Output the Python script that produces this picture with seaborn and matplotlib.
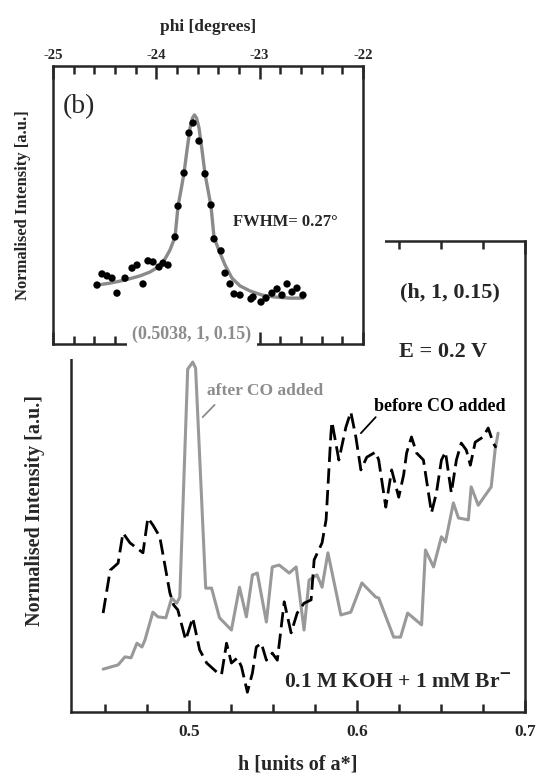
import matplotlib
matplotlib.use("Agg")
import matplotlib.pyplot as plt
import seaborn as sns
import pandas as pd
from matplotlib.patches import Rectangle

# ---------------- data: main panel (a) ----------------
h_after = [0.4491, 0.4580, 0.4621, 0.4657, 0.4692, 0.4722, 0.4740, 0.4787, 0.4817, 0.4864,
           0.4899, 0.4929, 0.4947, 0.4994, 0.5024, 0.5041, 0.5101, 0.5136, 0.5183, 0.5254,
           0.5302, 0.5343, 0.5379, 0.5408, 0.5462, 0.5497, 0.5538, 0.5598, 0.5639, 0.5686,
           0.5716, 0.5763, 0.5793, 0.5828, 0.5905, 0.5964, 0.6030, 0.6112, 0.6130, 0.6219,
           0.6260, 0.6302, 0.6385, 0.6408, 0.6456, 0.6503, 0.6527, 0.6574, 0.6604, 0.6663,
           0.6680, 0.6722, 0.6799, 0.6822, 0.6840]
I_after = [9.1, 10.0, 11.7, 11.5, 14.6, 13.8, 15.3, 21.2, 20.2, 20.0,
           24.2, 23.1, 24.4, 72.8, 74.3, 73.0, 26.3, 26.3, 20.0, 17.4,
           26.5, 20.2, 29.1, 29.5, 19.1, 30.8, 31.2, 29.5, 30.8, 17.4,
           28.0, 29.1, 26.5, 33.8, 20.6, 21.2, 27.4, 24.4, 24.2, 15.9,
           15.9, 21.0, 18.5, 34.4, 30.8, 37.2, 36.1, 44.4, 41.2, 40.8,
           47.8, 43.9, 47.8, 55.6, 59.2]

h_before = [0.4491, 0.4533, 0.4580, 0.4609, 0.4651, 0.4728, 0.4757, 0.4787, 0.4828, 0.4888,
            0.4911, 0.4935, 0.4982, 0.5024, 0.5065, 0.5107, 0.5166, 0.5195, 0.5225, 0.5254,
            0.5290, 0.5314, 0.5349, 0.5379, 0.5402, 0.5432, 0.5462, 0.5497, 0.5527, 0.5568,
            0.5609, 0.5645, 0.5686, 0.5728, 0.5746, 0.5793, 0.5817, 0.5846, 0.5852, 0.5893,
            0.5935, 0.5964, 0.5994, 0.6024, 0.6059, 0.6112, 0.6130, 0.6172, 0.6207, 0.6249,
            0.6278, 0.6296, 0.6325, 0.6355, 0.6396, 0.6444, 0.6473, 0.6503, 0.6527, 0.6562,
            0.6592, 0.6621, 0.6651, 0.6675, 0.6704, 0.6751, 0.6781, 0.6811, 0.6828]
I_before = [21.0, 30.1, 31.6, 38.0, 35.9, 33.8, 41.2, 39.7, 37.2, 25.3,
            22.7, 21.7, 15.3, 20.0, 13.2, 10.4, 8.5, 7.9, 14.6, 10.4,
            11.5, 9.6, 4.2, 8.3, 13.8, 14.6, 11.0, 12.5, 11.0, 23.4,
            16.8, 21.0, 23.1, 23.8, 32.3, 35.9, 40.8, 59.2, 61.6, 53.5,
            60.5, 63.7, 58.4, 51.4, 54.1, 55.2, 53.5, 43.5, 51.4, 45.6,
            50.3, 55.0, 58.4, 55.0, 53.5, 42.3, 46.5, 53.5, 55.2, 46.5,
            53.5, 57.1, 55.6, 52.4, 57.3, 58.4, 60.3, 57.1, 56.1]

h_major = [0.5, 0.6, 0.7]
h_major_labels = ["0.5", "0.6", "0.7"]
h_minor = [0.45, 0.475, 0.525, 0.55, 0.575, 0.625, 0.65, 0.675]

# ---------------- data: inset panel (b) ----------------
phi_pts = [-24.574, -24.526, -24.477, -24.429, -24.381, -24.303, -24.235, -24.187, -24.129, -24.081,
           -24.032, -23.974, -23.935, -23.887, -23.819, -23.790, -23.732, -23.684, -23.645, -23.587,
           -23.529, -23.471, -23.442, -23.374, -23.335, -23.287, -23.248, -23.190, -23.084, -23.064,
           -22.987, -22.939, -22.881, -22.832, -22.784, -22.735, -22.687, -22.639, -22.581]
I_pts = [21.2, 25.2, 24.5, 23.7, 18.3, 23.7, 27.3, 28.4, 21.6, 29.9,
         29.5, 27.7, 29.1, 28.4, 38.5, 49.6, 61.5, 75.9, 79.5, 73.0,
         61.2, 50.0, 37.8, 33.5, 25.5, 21.6, 18.0, 17.6, 16.2, 16.9,
         15.1, 16.5, 18.3, 19.8, 17.6, 21.6, 18.7, 20.1, 17.6]

phi_fit = [-24.574, -24.448, -24.303, -24.158, -24.061, -23.984, -23.916, -23.868, -23.819, -23.790,
           -23.761, -23.732, -23.703, -23.674, -23.650, -23.631, -23.611, -23.587, -23.558, -23.529,
           -23.500, -23.471, -23.442, -23.403, -23.335, -23.268, -23.190, -23.094, -22.977, -22.852,
           -22.706, -22.581]
I_fit = [21.2, 21.9, 23.0, 24.5, 25.9, 27.7, 30.6, 33.8, 38.5, 49.6,
         55.4, 61.5, 69.8, 77.7, 81.3, 82.4, 81.3, 77.7, 69.8, 61.2,
         55.4, 49.6, 38.5, 34.5, 28.4, 23.7, 20.9, 19.1, 17.6, 16.9,
         16.5, 16.5]

phi_major = [-25, -24, -23, -22]
phi_major_labels = ["-25", "-24", "-23", "-22"]
phi_minor = [-24.8, -24.6, -24.4, -24.2, -23.8, -23.6, -23.4, -23.2,
             -22.8, -22.6, -22.4, -22.2]

# ---------------- style ----------------
sns.set_style("ticks")
plt.rcParams['font.family'] = ['Liberation Serif', 'DejaVu Serif']
plt.rcParams['axes.linewidth'] = 1.8

W, H = 537, 778
fig = plt.figure(figsize=(W / 100, H / 100), dpi=100)

# main axes (a)
ax = fig.add_axes([71 / W, 1 - 712 / H, (525 - 71) / W, (712 - 241) / H])
ax.set_zorder(0)
df_after = pd.DataFrame({"h": h_after, "I": I_after})
df_before = pd.DataFrame({"h": h_before, "I": I_before})
sns.lineplot(data=df_after, x="h", y="I", ax=ax, color="#999999", lw=2.2,
             estimator=None, sort=False)
sns.lineplot(data=df_before, x="h", y="I", ax=ax, color="black", lw=2.0,
             linestyle=(0, (5.5, 2.3)), estimator=None, sort=False)
ax.set_xlim(0.43, 0.7)
ax.set_ylim(0, 100)
ax.set_yticks([])
ax.set_ylabel("")
ax.set_xticks(h_major)
ax.set_xticklabels(h_major_labels, fontsize=12.5, fontweight="bold")
ax.set_xticks(h_minor, minor=True)
ax.tick_params(axis="x", which="both", direction="in", top=True, bottom=True,
               width=1.8, pad=9)
ax.tick_params(axis="x", which="major", length=9)
ax.tick_params(axis="x", which="minor", length=6)
ax.set_xlabel("h [units of a*]", fontsize=14.5, fontweight="bold", labelpad=10)
for s in ax.spines.values():
    s.set_linewidth(1.8)

ax.text(0.082, 0.835, "(a)", transform=ax.transAxes, fontsize=18)
ax.annotate("", xy=(0.5083, 62.6), xytext=(0.5154, 65.2),
            arrowprops=dict(arrowstyle="-", color="#8c8c8c", lw=1.3, shrinkA=0, shrinkB=0))
ax.text(0.5107, 68.2, "after CO added", fontsize=12.5, fontweight="bold",
        color="#8c8c8c", ha="left", va="center")
ax.annotate("", xy=(0.6024, 59.2), xytext=(0.6112, 62.6),
            arrowprops=dict(arrowstyle="-", color="black", lw=1.3, shrinkA=0, shrinkB=0))
ax.text(0.6101, 64.8, "before CO added", fontsize=13, fontweight="bold",
        color="black", ha="left", va="center")
fig.text(450 / W, 1 - 292 / H, "(h, 1, 0.15)", fontsize=16, fontweight="bold",
         ha="center", va="center")
fig.text(443 / W, 1 - 352 / H, "E = 0.2 V", fontsize=16, fontweight="bold",
         ha="center", va="center")
fig.text(398 / W, 1 - 683 / H, r"0.1 M KOH + 1 mM Br$^{\mathbf{-}}$", fontsize=15.5,
         fontweight="bold", ha="center", va="center")
fig.text(35 / W, 1 - 510 / H, "Normalised Intensity [a.u.]", fontsize=14.5,
         fontweight="bold", rotation=90, ha="center", va="center")

# white patch that hides part of the main frame behind the inset
rect = Rectangle((0, 1 - 359 / H), 385 / W, 359 / H, transform=fig.transFigure,
                 facecolor="white", edgecolor="none", zorder=1)
fig.add_artist(rect)

# inset axes (b)
ax2 = fig.add_axes([53 / W, 1 - 344 / H, (363 - 53) / W, (344 - 66) / H])
ax2.set_zorder(2)
df_fit = pd.DataFrame({"phi": phi_fit, "I": I_fit})
df_pts = pd.DataFrame({"phi": phi_pts, "I": I_pts})
sns.lineplot(data=df_fit, x="phi", y="I", ax=ax2, color="#8a8a8a", lw=2.4,
             estimator=None, sort=False, zorder=2)
sns.scatterplot(data=df_pts, x="phi", y="I", ax=ax2, color="black", s=28,
                edgecolor="none", zorder=3)
ax2.set_xlim(-25, -22)
ax2.set_ylim(0, 100)
ax2.set_yticks([])
ax2.xaxis.set_label_position("top")
ax2.set_xticks(phi_major)
ax2.set_xticklabels(phi_major_labels, fontsize=10.5, fontweight="bold")
ax2.set_xticks(phi_minor, minor=True)
ax2.tick_params(axis="x", which="both", direction="in", top=True, bottom=True,
                labeltop=True, labelbottom=False, width=1.8, pad=3)
ax2.tick_params(axis="x", which="major", length=9)
ax2.tick_params(axis="x", which="minor", length=6)
ax2.set_xlabel("phi [degrees]", fontsize=12.5, fontweight="bold", labelpad=13)
ax2.set_ylabel("Normalised Intensity [a.u.]", fontsize=12, fontweight="bold", labelpad=16)
for s in ax2.spines.values():
    s.set_linewidth(1.8)

ax2.text(0.03, 0.83, "(b)", transform=ax2.transAxes, fontsize=20)
ax2.text(0.58, 0.44, "FWHM= 0.27°", transform=ax2.transAxes, fontsize=12,
         fontweight="bold", ha="left", va="center")
ax2.text(0.448, 0.035, "(0.5038, 1, 0.15)", transform=ax2.transAxes, fontsize=13,
         fontweight="bold", color="#8c8c8c", ha="center", va="center", zorder=5,
         bbox=dict(facecolor="white", edgecolor="none", pad=4))

fig.savefig("out.png", dpi=100)
